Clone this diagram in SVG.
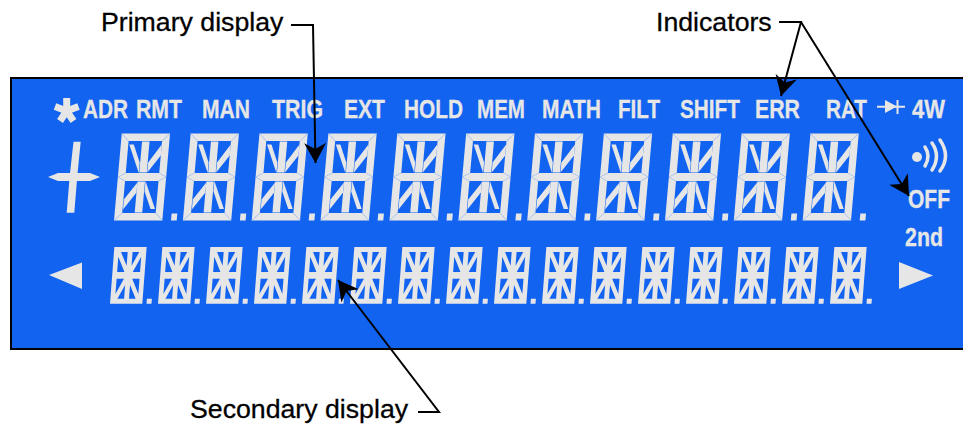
<svg xmlns="http://www.w3.org/2000/svg" width="963" height="424" viewBox="0 0 963 424">
<style>
.l{font-family:"Liberation Sans",Arial,sans-serif;font-size:26.7px;fill:#000;stroke:#000;stroke-width:.3}
.i{font-family:"Liberation Sans",Arial,sans-serif;font-size:26px;font-weight:bold;fill:#e6e6e6;stroke:#e6e6e6;stroke-width:.3}
.w{fill:none;stroke:#e6e6e6}
.c{fill:none;stroke:#000;stroke-width:2}
.s{fill:#e6e6e6}
</style>
<defs>
<marker id="a" markerUnits="userSpaceOnUse" markerWidth="24" markerHeight="24" refX="20" refY="12" orient="auto" viewBox="0 0 24 24"><polygon points="20,12 0,1 6,12 0,23" fill="#000"/></marker>
<g id="d">
<g fill="#e6e6e6">
<polygon points="0,-87 48.300,-87 41,-79.500 7.500,-79.500"/>
<polygon points="0,0 48.300,0 41,-7.500 7.500,-7.500"/>
<polygon points="0,-43.500 7.500,-47.500 41,-47.500 48.300,-43.500 41,-39.500 7.500,-39.500"/>
<polygon points="0,-87 7.500,-79.500 7.500,-47.500 0,-43.500"/>
<polygon points="0,-43.500 7.500,-39.500 7.500,-7.500 0,0"/>
<polygon points="48.300,-87 41,-79.500 41,-47.500 48.300,-43.500"/>
<polygon points="48.300,-43.500 41,-39.500 41,-7.500 48.300,0"/>
<polygon points="21,-79 28.500,-79 28.500,-48 21,-48"/>
<polygon points="20,-39 27.500,-39 27.500,-8 20,-8"/>
<polygon points="8.500,-76 13,-76 20.500,-58 20.500,-47.500"/>
<polygon points="41,-76 41,-65 29,-48 29,-58"/>
<polygon points="8,-11 8,-21 20,-38 20,-28"/>
<polygon points="40,-11.500 35.500,-11.500 28,-29 28,-39.500"/>
<rect x="57" y="-7" width="5.700" height="7"/>
</g>
<path fill="none" stroke="#a9c6f4" stroke-width=".5" d="M0,-87L7.500,-79.500M48.300,-87L41,-79.500M0,0L7.500,-7.500M48.300,0L41,-7.500M0,-43.500L7.500,-47.500M0,-43.500L7.500,-39.500M48.300,-43.500L41,-47.500M48.300,-43.500L41,-39.500"/>
</g>
<g id="e" fill="#e6e6e6">
<path fill-rule="evenodd" d="M0,-56.700H32.300V0H0ZM7,-51.700H13.700V-38ZM4.700,-47V-31.700H12ZM25.300,-51.700H18.600V-38ZM27.600,-47V-31.700H20.300ZM7,-5H13.700V-18.700ZM4.700,-9.700V-25H12ZM25.300,-5H18.600V-18.700ZM27.600,-9.700V-25H20.300Z"/>
<rect x="36.500" y="-5" width="5" height="5"/>
</g>
</defs>
<rect width="963" height="424" fill="#fff"/>
<g id="panel"><rect x="11" y="78" width="960" height="271" fill="#1163f0" stroke="#000" stroke-width="2"/></g>
<g id="primary-display">
<use href="#d" transform="translate(114,220.500) skewX(-5.100)"/>
<use href="#d" transform="translate(182.900,220.500) skewX(-5.100)"/>
<use href="#d" transform="translate(251.700,220.500) skewX(-5.100)"/>
<use href="#d" transform="translate(320.600,220.500) skewX(-5.100)"/>
<use href="#d" transform="translate(389.500,220.500) skewX(-5.100)"/>
<use href="#d" transform="translate(458.400,220.500) skewX(-5.100)"/>
<use href="#d" transform="translate(527.200,220.500) skewX(-5.100)"/>
<use href="#d" transform="translate(596.100,220.500) skewX(-5.100)"/>
<use href="#d" transform="translate(665,220.500) skewX(-5.100)"/>
<use href="#d" transform="translate(733.800,220.500) skewX(-5.100)"/>
<use href="#d" transform="translate(802.700,220.500) skewX(-5.100)"/>
</g>
<g id="secondary-display">
<use href="#e" transform="translate(110,303.700) skewX(-4.400)"/>
<use href="#e" transform="translate(158,303.700) skewX(-4.400)"/>
<use href="#e" transform="translate(206,303.700) skewX(-4.400)"/>
<use href="#e" transform="translate(254,303.700) skewX(-4.400)"/>
<use href="#e" transform="translate(302,303.700) skewX(-4.400)"/>
<use href="#e" transform="translate(350,303.700) skewX(-4.400)"/>
<use href="#e" transform="translate(398,303.700) skewX(-4.400)"/>
<use href="#e" transform="translate(446,303.700) skewX(-4.400)"/>
<use href="#e" transform="translate(494,303.700) skewX(-4.400)"/>
<use href="#e" transform="translate(542,303.700) skewX(-4.400)"/>
<use href="#e" transform="translate(590,303.700) skewX(-4.400)"/>
<use href="#e" transform="translate(638,303.700) skewX(-4.400)"/>
<use href="#e" transform="translate(686,303.700) skewX(-4.400)"/>
<use href="#e" transform="translate(734,303.700) skewX(-4.400)"/>
<use href="#e" transform="translate(782,303.700) skewX(-4.400)"/>
<use href="#e" transform="translate(830,303.700) skewX(-4.400)"/>
</g>
<g id="symbols">
<path class="w" stroke-width="7" d="M66.700,111V98M66.700,111L55,106.500M66.700,111L78.500,106.500M66.700,111L60,121M66.700,111L73.500,121"/>
<polygon class="s" points="73.500,141.700 80.700,141.700 77.600,173 90,173 100,177 90,181 76.900,181 74.300,212.700 66.700,212.700 69.300,181 58,181 48,177 58,173 70,173"/>
<polygon class="s" points="49,275 82,262.500 82,289"/>
<polygon class="s" points="899,262 933,275.500 899,289"/>
<polygon class="s" points="885,100 897,106.500 885,113"/>
<path class="w" stroke-width="2" d="M877,106.700H905M897.500,100V114"/>
<circle class="s" cx="917" cy="157" r="5"/>
<path class="w" stroke-width="3.500" stroke-linecap="round" d="M925,147Q931,156 925,166M932,143Q941,156 932,170M940,140Q951,156 940,171"/>
</g>
<g id="indicators">
<text class="i" x="83" y="118" textLength="45" lengthAdjust="spacingAndGlyphs">ADR</text>
<text class="i" x="136" y="118" textLength="46" lengthAdjust="spacingAndGlyphs">RMT</text>
<text class="i" x="202" y="118" textLength="48" lengthAdjust="spacingAndGlyphs">MAN</text>
<text class="i" x="272" y="118" textLength="51" lengthAdjust="spacingAndGlyphs">TRIG</text>
<text class="i" x="344" y="118" textLength="41" lengthAdjust="spacingAndGlyphs">EXT</text>
<text class="i" x="404" y="118" textLength="59" lengthAdjust="spacingAndGlyphs">HOLD</text>
<text class="i" x="477" y="118" textLength="48" lengthAdjust="spacingAndGlyphs">MEM</text>
<text class="i" x="542" y="118" textLength="59" lengthAdjust="spacingAndGlyphs">MATH</text>
<text class="i" x="618" y="118" textLength="42" lengthAdjust="spacingAndGlyphs">FILT</text>
<text class="i" x="680" y="118" textLength="60" lengthAdjust="spacingAndGlyphs">SHIFT</text>
<text class="i" x="755" y="118" textLength="45" lengthAdjust="spacingAndGlyphs">ERR</text>
<text class="i" x="826" y="118" textLength="41" lengthAdjust="spacingAndGlyphs">RAT</text>
<text class="i" x="912" y="118" textLength="33" lengthAdjust="spacingAndGlyphs">4W</text>
<text class="i" x="908" y="208" textLength="42" lengthAdjust="spacingAndGlyphs">OFF</text>
<text class="i" x="905" y="246" textLength="38" lengthAdjust="spacingAndGlyphs">2nd</text>
</g>
<g id="labels">
<text class="l" x="101" y="31">Primary display</text>
<text class="l" x="656" y="31">Indicators</text>
<text class="l" x="190" y="418">Secondary display</text>
</g>
<g id="connectors">
<path class="c" marker-end="url(#a)" d="M291,25H313L315.500,163"/>
<path class="c" marker-end="url(#a)" d="M418,412H439L338,280"/>
<path class="c" marker-end="url(#a)" d="M779,22H801L781,96"/>
<path class="c" marker-end="url(#a)" d="M801,22L909,196"/>
</g>
</svg>
